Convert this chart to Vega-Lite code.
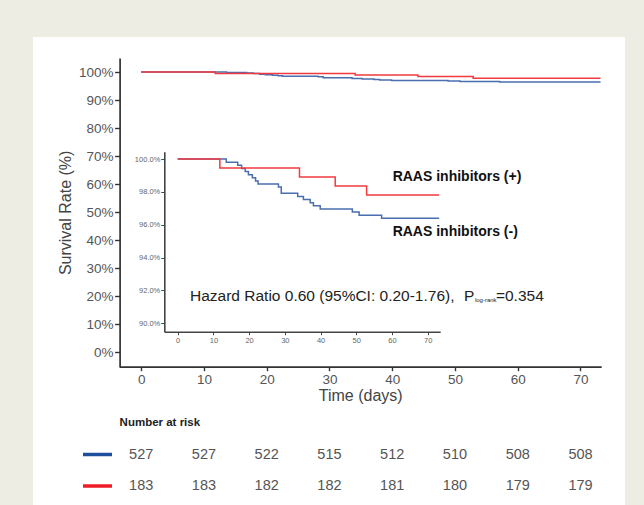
{
  "$schema": "https://vega.github.io/schema/vega-lite/v6.json",
  "width": 592,
  "height": 468,
  "autosize": {"type": "none"},
  "padding": {"left": 33, "top": 37, "right": 19, "bottom": 0},
  "background": "#eeede3",
  "config": {
    "view": {"fill": "white", "stroke": null},
    "font": "Liberation Sans",
    "axis": {"grid": false, "labelFlush": false, "labelOverlap": false}
  },
  "datasets": {
    "km": [
      {"group": "RAAS inhibitors (-)", "time": 0, "surv": 100},
      {"group": "RAAS inhibitors (-)", "time": 13.6, "surv": 99.81},
      {"group": "RAAS inhibitors (-)", "time": 16.8, "surv": 99.62},
      {"group": "RAAS inhibitors (-)", "time": 17.9, "surv": 99.43},
      {"group": "RAAS inhibitors (-)", "time": 18.9, "surv": 99.24},
      {"group": "RAAS inhibitors (-)", "time": 19.8, "surv": 99.05},
      {"group": "RAAS inhibitors (-)", "time": 20.9, "surv": 98.86},
      {"group": "RAAS inhibitors (-)", "time": 21.8, "surv": 98.67},
      {"group": "RAAS inhibitors (-)", "time": 22.5, "surv": 98.48},
      {"group": "RAAS inhibitors (-)", "time": 28.2, "surv": 98.29},
      {"group": "RAAS inhibitors (-)", "time": 29.0, "surv": 97.91},
      {"group": "RAAS inhibitors (-)", "time": 33.6, "surv": 97.72},
      {"group": "RAAS inhibitors (-)", "time": 35.2, "surv": 97.53},
      {"group": "RAAS inhibitors (-)", "time": 37.1, "surv": 97.34},
      {"group": "RAAS inhibitors (-)", "time": 38.0, "surv": 97.15},
      {"group": "RAAS inhibitors (-)", "time": 39.9, "surv": 96.96},
      {"group": "RAAS inhibitors (-)", "time": 48.9, "surv": 96.77},
      {"group": "RAAS inhibitors (-)", "time": 50.8, "surv": 96.58},
      {"group": "RAAS inhibitors (-)", "time": 57.1, "surv": 96.39},
      {"group": "RAAS inhibitors (-)", "time": 73.2, "surv": 96.39},
      {"group": "RAAS inhibitors (+)", "time": 0, "surv": 100},
      {"group": "RAAS inhibitors (+)", "time": 11.8, "surv": 99.45},
      {"group": "RAAS inhibitors (+)", "time": 34.1, "surv": 98.91},
      {"group": "RAAS inhibitors (+)", "time": 44.1, "surv": 98.36},
      {"group": "RAAS inhibitors (+)", "time": 52.9, "surv": 97.81},
      {"group": "RAAS inhibitors (+)", "time": 73.2, "surv": 97.81}
    ],
    "risk": [
      {"group": "RAAS inhibitors (-)", "time": 0, "n": 527},
      {"group": "RAAS inhibitors (-)", "time": 10, "n": 527},
      {"group": "RAAS inhibitors (-)", "time": 20, "n": 522},
      {"group": "RAAS inhibitors (-)", "time": 30, "n": 515},
      {"group": "RAAS inhibitors (-)", "time": 40, "n": 512},
      {"group": "RAAS inhibitors (-)", "time": 50, "n": 510},
      {"group": "RAAS inhibitors (-)", "time": 60, "n": 508},
      {"group": "RAAS inhibitors (-)", "time": 70, "n": 508},
      {"group": "RAAS inhibitors (+)", "time": 0, "n": 183},
      {"group": "RAAS inhibitors (+)", "time": 10, "n": 183},
      {"group": "RAAS inhibitors (+)", "time": 20, "n": 182},
      {"group": "RAAS inhibitors (+)", "time": 30, "n": 182},
      {"group": "RAAS inhibitors (+)", "time": 40, "n": 181},
      {"group": "RAAS inhibitors (+)", "time": 50, "n": 180},
      {"group": "RAAS inhibitors (+)", "time": 60, "n": 179},
      {"group": "RAAS inhibitors (+)", "time": 70, "n": 179}
    ],
    "swatch": [
      {"group": "RAAS inhibitors (-)"},
      {"group": "RAAS inhibitors (+)"}
    ]
  },
  "layer": [
    {
      "layer": [
        {
          "data": {"name": "km"},
          "mark": {"type": "line", "interpolate": "step-after", "strokeWidth": 1.5},
          "encoding": {
            "x": {
              "field": "time", "type": "quantitative",
              "scale": {"domain": [-3.5, 73.3], "range": [86.2, 568.2], "nice": false, "zero": false},
              "axis": {
                "orient": "bottom", "offset": -138.3, "values": [0, 10, 20, 30, 40, 50, 60, 70],
                "domainColor": "#333333", "domainWidth": 1.7, "tickColor": "#333333", "tickWidth": 1.4, "tickSize": 4,
                "labelFontSize": 13.5, "labelColor": "#555555", "labelPadding": 2,
                "title": "Time (days)", "titleFontSize": 16, "titleFontWeight": "normal", "titleColor": "#444444", "titlePadding": 1
              }
            },
            "y": {
              "field": "surv", "type": "quantitative",
              "scale": {"domain": [-5.25, 105], "range": [329.7, 21], "nice": false, "zero": false},
              "axis": {
                "orient": "left", "offset": -86.6, "values": [0, 10, 20, 30, 40, 50, 60, 70, 80, 90, 100],
                "labelExpr": "datum.value + '%'",
                "domainColor": "#333333", "domainWidth": 1.7, "tickColor": "#333333", "tickWidth": 1.4, "tickSize": 5,
                "labelFontSize": 13.5, "labelColor": "#555555", "labelPadding": 1.5,
                "title": "Survival Rate (%)", "titleFontSize": 16, "titleFontWeight": "normal", "titleColor": "#444444", "titlePadding": 5
              }
            },
            "color": {
              "field": "group", "type": "nominal",
              "scale": {"domain": ["RAAS inhibitors (-)", "RAAS inhibitors (+)"], "range": ["#4a6fae", "#f23a3f"]},
              "legend": null
            }
          }
        },
        {
          "data": {"values": [{"label": "RAAS inhibitors (+)"}]},
          "mark": {"type": "text", "align": "left", "baseline": "middle", "fontSize": 14, "fontWeight": "bold", "color": "#111111"},
          "encoding": {
            "x": {"datum": 40.07, "type": "quantitative"},
            "y": {"datum": 62.6, "type": "quantitative"},
            "text": {"field": "label"}
          }
        },
        {
          "data": {"values": [{"label": "RAAS inhibitors (-)"}]},
          "mark": {"type": "text", "align": "left", "baseline": "middle", "fontSize": 14, "fontWeight": "bold", "color": "#111111"},
          "encoding": {
            "x": {"datum": 40.07, "type": "quantitative"},
            "y": {"datum": 42.96, "type": "quantitative"},
            "text": {"field": "label"}
          }
        },
        {
          "data": {"values": [{"label": "Hazard Ratio 0.60 (95%CI: 0.20-1.76),"}]},
          "mark": {"type": "text", "align": "left", "baseline": "alphabetic", "fontSize": 15.5, "color": "#222222"},
          "encoding": {
            "x": {"datum": 7.78, "type": "quantitative"},
            "y": {"datum": 18.21, "type": "quantitative"},
            "text": {"field": "label"}
          }
        },
        {
          "data": {"values": [{"label": "P"}]},
          "mark": {"type": "text", "align": "left", "baseline": "alphabetic", "fontSize": 15.5, "color": "#222222"},
          "encoding": {
            "x": {"datum": 51.43, "type": "quantitative"},
            "y": {"datum": 18.21, "type": "quantitative"},
            "text": {"field": "label"}
          }
        },
        {
          "data": {"values": [{"label": "log-rank"}]},
          "mark": {"type": "text", "align": "left", "baseline": "alphabetic", "fontSize": 6, "color": "#222222"},
          "encoding": {
            "x": {"datum": 53.18, "type": "quantitative"},
            "y": {"datum": 17.86, "type": "quantitative"},
            "text": {"field": "label"}
          }
        },
        {
          "data": {"values": [{"label": "=0.354"}]},
          "mark": {"type": "text", "align": "left", "baseline": "alphabetic", "fontSize": 15.5, "color": "#222222"},
          "encoding": {
            "x": {"datum": 56.53, "type": "quantitative"},
            "y": {"datum": 18.21, "type": "quantitative"},
            "text": {"field": "label"}
          }
        }
      ]
    },
    {
      "data": {"name": "km"},
      "mark": {"type": "line", "interpolate": "step-after", "strokeWidth": 1.5},
      "encoding": {
        "x": {
          "field": "time", "type": "quantitative",
          "scale": {"domain": [-3.75, 73.5], "range": [131.3, 407.2], "nice": false, "zero": false},
          "axis": {
            "orient": "bottom", "offset": -173.3, "values": [0, 10, 20, 30, 40, 50, 60, 70],
            "domainColor": "#444444", "domainWidth": 1.6, "tickColor": "#444444", "tickWidth": 1, "tickSize": 3,
            "labelFontSize": 7.5, "labelColor": "#666666", "labelPadding": 1.5, "title": null
          }
        },
        "y": {
          "field": "surv", "type": "quantitative",
          "scale": {"domain": [89.49, 100.44], "range": [294.7, 114.8], "nice": false, "zero": false},
          "axis": {
            "orient": "left", "offset": -131.3, "values": [90, 92, 94, 96, 98, 100],
            "labelExpr": "format(datum.value, '.1f') + '%'",
            "domainColor": "#444444", "domainWidth": 1.6, "tickColor": "#444444", "tickWidth": 1, "tickSize": 3.5,
            "labelFontSize": 7.5, "labelColor": "#666666", "labelPadding": 1, "title": null
          }
        },
        "color": {
          "field": "group", "type": "nominal",
          "scale": {"domain": ["RAAS inhibitors (-)", "RAAS inhibitors (+)"], "range": ["#4a6fae", "#f23a3f"]},
          "legend": null
        }
      }
    },
    {
      "layer": [
        {
          "data": {"values": [{"label": "Number at risk"}]},
          "mark": {"type": "text", "align": "left", "baseline": "middle", "fontSize": 11.5, "fontWeight": "bold", "color": "#222222"},
          "encoding": {
            "x": {"datum": -3.44, "type": "quantitative", "scale": {"domain": [-3.5, 73.3], "range": [86.2, 568.2], "nice": false, "zero": false}, "axis": null},
            "y": {"field": "label", "type": "nominal", "scale": {"type": "point", "domain": ["Number at risk", "RAAS inhibitors (-)", "RAAS inhibitors (+)"], "range": [386, 449], "padding": 0}, "axis": null},
            "text": {"field": "label"}
          }
        },
        {
          "data": {"name": "swatch"},
          "mark": {"type": "rule", "strokeWidth": 3.5},
          "encoding": {
            "x": {"datum": -9.27, "type": "quantitative", "axis": null},
            "x2": {"datum": -4.65},
            "y": {"field": "group", "type": "nominal", "axis": null},
            "color": {
              "field": "group", "type": "nominal",
              "scale": {"domain": ["RAAS inhibitors (-)", "RAAS inhibitors (+)"], "range": ["#1f4e9c", "#ee1c25"]},
              "legend": null
            }
          }
        },
        {
          "data": {"name": "risk"},
          "mark": {"type": "text", "align": "center", "baseline": "middle", "fontSize": 14.5, "color": "#555555"},
          "encoding": {
            "x": {"field": "time", "type": "quantitative", "axis": null},
            "y": {"field": "group", "type": "nominal", "axis": null},
            "text": {"field": "n", "type": "quantitative"}
          }
        }
      ]
    }
  ],
  "resolve": {
    "scale": {"x": "independent", "y": "independent", "color": "independent"},
    "axis": {"x": "independent", "y": "independent"}
  }
}
